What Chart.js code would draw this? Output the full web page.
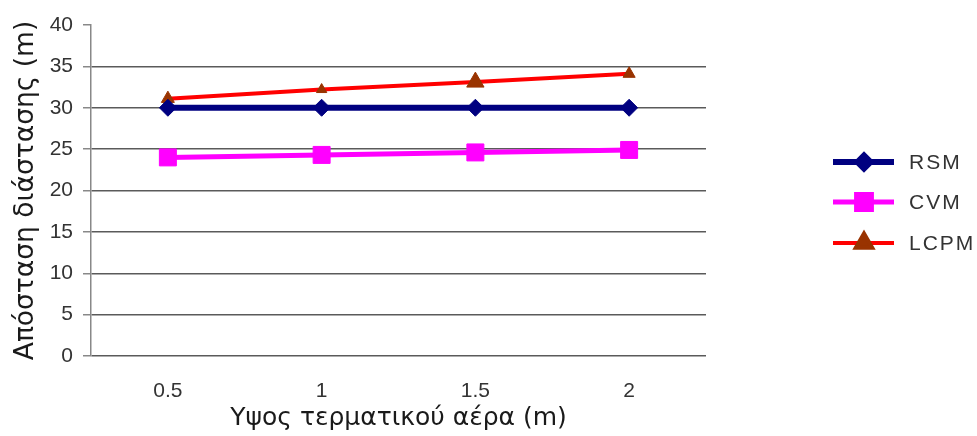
<!DOCTYPE html>
<html>
<head>
<meta charset="utf-8">
<script src="https://cdn.jsdelivr.net/npm/chart.js@4"></script>
<style>
  html, body { margin: 0; padding: 0; background: #fff; }
  #wrap { width: 977px; height: 436px; }
</style>
</head>
<body>
<div id="wrap"><canvas id="c" width="977" height="436"></canvas></div>
<script>
// Terminal air height (m) on the x axis
const heights = ['0.5', '1', '1.5', '2'];
// Separation distance (m) for each method
const rsm = [30, 30, 30, 30];
const cvm = [24.0, 24.3, 24.6, 24.9];
const lcpm = [31.1, 32.2, 33.1, 34.1];
// y axis range and step
const yTicks = [0, 5, 10, 15, 20, 25, 30, 35, 40];

const FONT = "'Liberation Sans', Arial, sans-serif";
const TITLE_FONT = "'DejaVu Sans', Verdana, sans-serif";

// Legend at the right: a short line with the series marker in the middle
const sideLegend = {
  id: 'sideLegend',
  afterDraw(chart) {
    const ctx = chart.ctx;
    const x0 = 833, x1 = 894, xm = 864, xt = 909;
    const rows = [162, 202, 243];
    const marks = [
      { style: 'rectRot', radius: 6.5 },
      { style: 'rect', radius: 10.5 },
      { style: 'triangle', radius: 9.5 }
    ];
    chart.data.datasets.forEach((ds, i) => {
      const y = rows[i];
      ctx.save();
      ctx.strokeStyle = ds.borderColor;
      ctx.lineWidth = ds.borderWidth;
      ctx.beginPath();
      ctx.moveTo(x0, y);
      ctx.lineTo(x1, y);
      ctx.stroke();
      ctx.fillStyle = ds.pointBackgroundColor;
      ctx.strokeStyle = ds.pointBorderColor;
      Chart.helpers.drawPoint(ctx, { pointStyle: marks[i].style, radius: marks[i].radius, borderWidth: 1, rotation: 0 }, xm, y);
      ctx.fillStyle = '#333';
      ctx.font = '21px ' + FONT;
      ctx.textBaseline = 'middle';
      ctx.textAlign = 'left';
      ctx.letterSpacing = '2px';
      ctx.fillText(ds.label, xt, y + 1);
      ctx.restore();
    });
  }
};

new Chart(document.getElementById('c'), {
  type: 'line',
  data: {
    labels: heights,
    datasets: [
      {
        label: 'RSM',
        data: rsm,
        borderColor: '#000080',
        borderWidth: 6,
        pointStyle: 'rectRot',
        pointRadius: 8.5,
        pointBackgroundColor: '#000080',
        pointBorderColor: '#000080',
        pointBorderWidth: 1
      },
      {
        label: 'CVM',
        data: cvm,
        borderColor: '#FF00FF',
        borderWidth: 5,
        pointStyle: 'rect',
        pointRadius: 12,
        pointBackgroundColor: '#FF00FF',
        pointBorderColor: '#FF00FF',
        pointBorderWidth: 1
      },
      {
        label: 'LCPM',
        data: lcpm,
        borderColor: '#FF0000',
        borderWidth: 4,
        pointStyle: 'triangle',
        pointRadius: [7.5, 6, 10, 7],
        pointBackgroundColor: '#993300',
        pointBorderColor: '#993300',
        pointBorderWidth: 1
      }
    ]
  },
  options: {
    responsive: false,
    animation: false,
    layout: { padding: { top: 25, right: 271, bottom: 0, left: 0 } },
    plugins: {
      legend: { display: false },
      tooltip: { enabled: false }
    },
    elements: { line: { tension: 0 } },
    scales: {
      x: {
        offset: true,
        grid: { display: false, drawTicks: false },
        border: { display: false },
        ticks: { color: '#333', font: { family: FONT, size: 21 }, padding: 23 },
        title: {
          display: true,
          text: 'Υψος τερματικού αέρα (m)',
          color: '#1a1a1a',
          font: { family: TITLE_FONT, size: 25 },
          padding: { top: 0, bottom: 3 }
        },
        afterFit(scale) { scale.height = 80; }
      },
      y: {
        min: yTicks[0],
        max: yTicks[yTicks.length - 1],
        afterBuildTicks(scale) { scale.ticks = yTicks.map(v => ({ value: v })); },
        grid: {
          color: c => (c.tick && c.tick.value === yTicks[yTicks.length - 1]) ? 'rgba(0,0,0,0)' : '#5a5a5a',
          tickColor: '#888',
          lineWidth: 1.5,
          tickLength: 8
        },
        border: { display: true, color: '#888', width: 1.5 },
        ticks: { color: '#333', font: { family: FONT, size: 21 }, padding: 10 },
        title: {
          display: true,
          text: 'Απόσταση διάστασης (m)',
          color: '#1a1a1a',
          font: { family: TITLE_FONT, size: 26.5 },
          padding: { top: 10, bottom: 0 }
        },
        afterFit(scale) { scale.width = 91; }
      }
    }
  },
  plugins: [sideLegend]
});
</script>
</body>
</html>
